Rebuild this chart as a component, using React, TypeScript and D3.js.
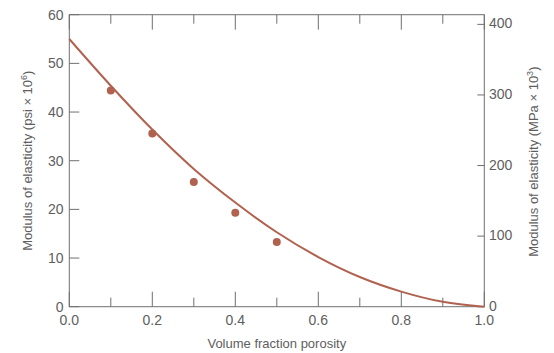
import React from "react";
import * as d3 from "d3";

const porosityCurve = [0, 0.1, 0.2, 0.3, 0.4, 0.5, 0.6, 0.7, 0.8, 0.9, 1.0];
const modulusCurve = [55, 45.4, 36.4, 28.3, 21.4, 15.3, 10.2, 6.1, 3.1, 1.0, 0];
const porosityPts = [0.1, 0.2, 0.3, 0.4, 0.5];
const modulusPts = [44.4, 35.6, 25.6, 19.3, 13.3];
const xTicks = [0, 0.1, 0.2, 0.3, 0.4, 0.5, 0.6, 0.7, 0.8, 0.9, 1.0];
const yLeftTicks = [0, 10, 20, 30, 40, 50, 60];
const yRightTicks = [0, 100, 200, 300, 400];
const PSI_TO_MPA = 6.895;

const W = 554, H = 353;
const L = 69.3, R = 484.3, T = 14.7, B = 306.7;
const FONT = "'Liberation Sans', Arial, sans-serif";
const TEXT = "#5e5e5e";
const AXIS = "#707070";
const MARK = "#b0624f";

export default function App() {
  const x = d3.scaleLinear().domain([0, 1]).range([L, R]);
  const yL = d3.scaleLinear().domain([0, 60]).range([B, T]);
  const yR = d3.scaleLinear().domain([0, 60 * PSI_TO_MPA]).range([B, T]);
  const line = d3
    .line<number>()
    .x((_, i) => x(porosityCurve[i]))
    .y((d) => yL(d))
    .curve(d3.curveMonotoneX);

  const isMajor = (v: number) => Math.abs(Math.round(v * 10) % 2) === 0;

  return (
    <svg
      width={W}
      height={H}
      style={{ position: "absolute", left: 0, top: 0, background: "#fff" }}
      fontFamily={FONT}
    >
      <rect x={0} y={0} width={W} height={H} fill="#fff" />
      {/* frame */}
      <rect x={L} y={T} width={R - L} height={B - T} fill="none" stroke={AXIS} strokeWidth={1} />
      {/* x ticks bottom & top */}
      {xTicks.map((t) => {
        const len = isMajor(t) ? 15 : 9;
        return (
          <g key={"x" + t}>
            <line x1={x(t)} x2={x(t)} y1={B} y2={B - len} stroke={AXIS} strokeWidth={1} />
            <line x1={x(t)} x2={x(t)} y1={T} y2={T + len} stroke={AXIS} strokeWidth={1} />
            {isMajor(t) && (
              <text x={x(t)} y={325} textAnchor="middle" fontSize={14} fill={TEXT}>
                {t.toFixed(1)}
              </text>
            )}
          </g>
        );
      })}
      {/* left ticks */}
      {yLeftTicks.map((t) => (
        <g key={"yl" + t}>
          <line x1={L} x2={L + 10} y1={yL(t)} y2={yL(t)} stroke={AXIS} strokeWidth={1} />
          <text x={63.5} y={yL(t) + 5} textAnchor="end" fontSize={14} fill={TEXT}>
            {t}
          </text>
        </g>
      ))}
      {/* right ticks */}
      {yRightTicks.map((t) => (
        <g key={"yr" + t}>
          <line x1={R} x2={R - 7} y1={yR(t)} y2={yR(t)} stroke={AXIS} strokeWidth={1} />
          <text x={489} y={yR(t) + 4} textAnchor="start" fontSize={14} fill={TEXT}>
            {t}
          </text>
        </g>
      ))}
      {/* curve */}
      <path d={line(modulusCurve) || ""} fill="none" stroke={MARK} strokeWidth={2} />
      {/* points */}
      {porosityPts.map((p, i) => (
        <circle key={"p" + i} cx={x(p)} cy={yL(modulusPts[i])} r={4} fill={MARK} />
      ))}
      {/* axis titles */}
      <text x={(L + R) / 2} y={348} textAnchor="middle" fontSize={13} fill={TEXT}>
        Volume fraction porosity
      </text>
      <text
        transform={`translate(31.5,${(T + B) / 2}) rotate(-90)`}
        textAnchor="middle"
        fontSize={13}
        fill={TEXT}
      >
        Modulus of elasticity (psi × 10
        <tspan fontSize={9} dy={-5}>6</tspan>
        <tspan dy={5}>)</tspan>
      </text>
      <text
        transform={`translate(538,${(T + B) / 2 + 1}) rotate(-90)`}
        textAnchor="middle"
        fontSize={13}
        fill={TEXT}
      >
        Modulus of elasticity (MPa × 10
        <tspan fontSize={9} dy={-5}>3</tspan>
        <tspan dy={5}>)</tspan>
      </text>
    </svg>
  );
}
